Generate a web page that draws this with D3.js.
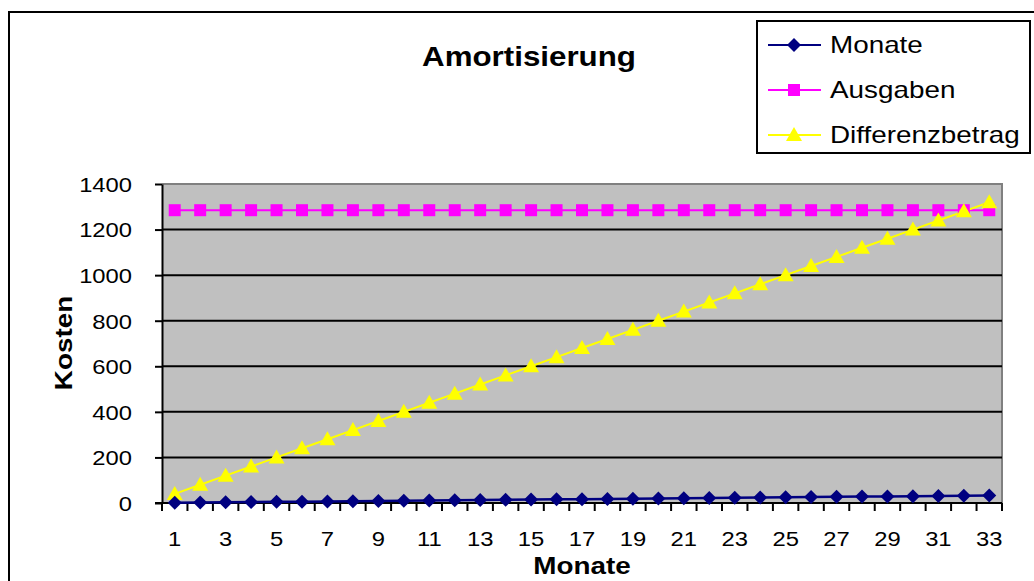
<!DOCTYPE html>
<html><head><meta charset="utf-8">
<script src="https://cdn.jsdelivr.net/npm/d3@7"></script>
<style>body{margin:0;background:#fff;} svg{display:block;font-family:"Liberation Sans",Arial,sans-serif;}</style>
</head><body><svg id="c" width="1034" height="581"></svg>
<script>
const months = [1,2,3,4,5,6,7,8,9,10,11,12,13,14,15,16,17,18,19,20,21,22,23,24,25,26,27,28,29,30,31,32,33];
const monateValues = [1,2,3,4,5,6,7,8,9,10,11,12,13,14,15,16,17,18,19,20,21,22,23,24,25,26,27,28,29,30,31,32,33];
const ausgabenValues = [1285,1285,1285,1285,1285,1285,1285,1285,1285,1285,1285,1285,1285,1285,1285,1285,1285,1285,1285,1285,1285,1285,1285,1285,1285,1285,1285,1285,1285,1285,1285,1285,1285];
const differenzValues = [40,80,120,160,200,240,280,320,360,400,440,480,520,560,600,640,680,720,760,800,840,880,920,960,1000,1040,1080,1120,1160,1200,1240,1280,1320];
const yTicks = [0,200,400,600,800,1000,1200,1400];
const xTickLabels = [1,3,5,7,9,11,13,15,17,19,21,23,25,27,29,31,33];
const seriesNames = ["Monate","Ausgaben","Differenzbetrag"];
const title = "Amortisierung";
const yTitle = "Kosten";
const xTitle = "Monate";

const SX = 1.16;
const svg = d3.select("#c");
const L = 162, R = 1002, T = 184, B = 503;

// outer chart border
svg.append("rect").attr("x",9).attr("y",12).attr("width",1040).attr("height",600)
  .attr("fill","#fff").attr("stroke","#000").attr("stroke-width",2);

const x = d3.scaleBand().domain(months).range([L,R]);
const y = d3.scaleLinear().domain([0,1400]).range([B,T]);

// plot area
svg.append("rect").attr("x",L).attr("y",T).attr("width",R-L).attr("height",B-T).attr("fill","#C0C0C0");
svg.append("path").attr("d",`M${L},${T}H${R}V${B}`).attr("fill","none").attr("stroke","#808080").attr("stroke-width",2);

// gridlines
svg.append("g").selectAll("line").data(yTicks.filter(d=>d>0 && d<1400)).join("line")
  .attr("x1",L).attr("x2",R).attr("y1",d=>y(d)).attr("y2",d=>y(d))
  .attr("stroke","#000").attr("stroke-width",2);

function stretch(sel){
  sel.each(function(){
    const t = d3.select(this);
    const tx = +t.attr("x")||0, ty = +t.attr("y")||0;
    t.attr("x",0).attr("y",0).attr("transform",`translate(${tx},${ty}) scale(${SX},1)`);
  });
}

// y axis
const ya = svg.append("g").attr("transform",`translate(${L},0)`)
  .call(d3.axisLeft(y).tickValues(yTicks).tickFormat(d3.format("d")).tickSize(7).tickPadding(23).tickSizeOuter(0));
ya.select(".domain").attr("stroke","#000").attr("stroke-width",2);
ya.selectAll(".tick line").attr("stroke","#000").attr("stroke-width",2);
ya.selectAll(".tick text").attr("font-size",20.5).attr("fill","#000").attr("font-family","Liberation Sans, Arial").attr("dy","0.36em");
stretch(ya.selectAll(".tick text"));

// x axis: ticks at category boundaries
const xa = svg.append("g");
const bounds = months.map(m=>x(m)).concat([R]);
xa.selectAll("line.tk").data(bounds).join("line").attr("class","tk")
  .attr("x1",d=>d).attr("x2",d=>d).attr("y1",B).attr("y2",B+8).attr("stroke","#000").attr("stroke-width",2);
xa.append("line").attr("x1",L-7).attr("x2",R).attr("y1",B).attr("y2",B).attr("stroke","#000").attr("stroke-width",2);
const xl = xa.selectAll("text").data(xTickLabels).join("text")
  .attr("x",d=>x(d)+x.bandwidth()/2).attr("y",546)
  .attr("text-anchor","middle").attr("font-size",20.5).attr("fill","#000").text(d=>d);
stretch(xl);

// series lines
const line = (vals)=>d3.line().x((d,i)=>x(months[i])+x.bandwidth()/2).y(d=>y(d))(vals);
svg.append("path").attr("d",line(ausgabenValues)).attr("fill","none").attr("stroke","#FF00FF").attr("stroke-width",2);
svg.append("path").attr("d",line(differenzValues)).attr("fill","none").attr("stroke","#FFFF00").attr("stroke-width",2);
svg.append("path").attr("d",line(monateValues)).attr("fill","none").attr("stroke","#000080").attr("stroke-width",2.5);

const square = "M-6,-6H6V6H-6Z";
const tri = "M0,-8L8,6H-8Z";
const diamondPath = "M0,-7L7,0L0,7L-7,0Z";
function markers(vals, path, color){
  svg.append("g").selectAll("path").data(vals).join("path")
    .attr("d",path).attr("fill",color)
    .attr("transform",(d,i)=>`translate(${x(months[i])+x.bandwidth()/2},${y(d)})`);
}
markers(ausgabenValues, square, "#FF00FF");
markers(differenzValues, tri, "#FFFF00");
markers(monateValues, diamondPath, "#000080");

// title
const tt = svg.append("text").attr("x",529).attr("y",66).attr("text-anchor","middle")
  .attr("font-size",27).attr("font-weight","bold").text(title);
stretch(tt);
// axis titles
svg.append("text").attr("text-anchor","middle").attr("font-size",24).attr("font-weight","bold")
  .attr("transform",`translate(72,343) rotate(-90) scale(${SX},1)`).text(yTitle);
const xt = svg.append("text").attr("x",582).attr("y",574).attr("text-anchor","middle")
  .attr("font-size",24).attr("font-weight","bold").text(xTitle);
stretch(xt);

// legend
const lg = svg.append("g");
lg.append("rect").attr("x",757).attr("y",21).attr("width",273).attr("height",132)
  .attr("fill","#fff").attr("stroke","#000").attr("stroke-width",2);
const lcolors = ["#000080","#FF00FF","#FFFF00"];
const lpaths = [diamondPath, square, tri];
seriesNames.forEach((n,i)=>{
  const cy = 45 + i*45;
  lg.append("line").attr("x1",768).attr("x2",821).attr("y1",cy).attr("y2",cy).attr("stroke",lcolors[i]).attr("stroke-width",2);
  lg.append("path").attr("d",lpaths[i]).attr("fill",lcolors[i]).attr("transform",`translate(794,${cy})`);
  const t = lg.append("text").attr("x",830).attr("y",cy+8).attr("font-size",24).attr("fill","#000").text(n);
  stretch(t);
});
</script></body></html>
